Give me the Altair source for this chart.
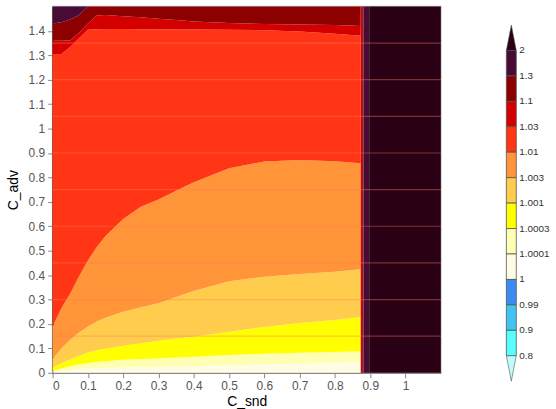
import altair as alt
import pandas as pd

# C_snd positions at which the level boundaries are read
xs = [0, 0.025, 0.05, 0.075, 0.1, 0.125, 0.15, 0.2, 0.25, 0.3, 0.35, 0.4, 0.5, 0.6, 0.7, 0.8, 0.873]

# upper C_adv edge of each filled level (bottom to top)
top_1_0001 = [0.003, 0.008, 0.012, 0.016, 0.018, 0.019, 0.020, 0.022, 0.023, 0.024, 0.026, 0.027, 0.031, 0.034, 0.037, 0.040, 0.042]
top_1_0003 = [0.008, 0.018, 0.027, 0.035, 0.040, 0.044, 0.047, 0.053, 0.057, 0.059, 0.063, 0.066, 0.073, 0.078, 0.082, 0.085, 0.088]
top_1_001 = [0.022, 0.040, 0.055, 0.070, 0.083, 0.092, 0.099, 0.111, 0.121, 0.131, 0.140, 0.148, 0.168, 0.188, 0.204, 0.216, 0.228]
top_1_003 = [0.058, 0.100, 0.135, 0.165, 0.190, 0.210, 0.225, 0.250, 0.268, 0.285, 0.310, 0.335, 0.375, 0.393, 0.405, 0.414, 0.424]
top_1_01 = [0.190, 0.265, 0.325, 0.395, 0.460, 0.515, 0.560, 0.630, 0.680, 0.710, 0.745, 0.780, 0.838, 0.865, 0.871, 0.866, 0.858]
top_1_03 = [1.305, 1.305, 1.334, 1.370, 1.405, 1.407, 1.408, 1.408, 1.407, 1.407, 1.406, 1.406, 1.405, 1.403, 1.397, 1.388, 1.380]
top_1_1 = [1.360, 1.360, 1.362, 1.392, 1.430, 1.463, 1.465, 1.460, 1.456, 1.450, 1.444, 1.438, 1.432, 1.428, 1.426, 1.424, 1.420]
top_1_3 = [1.430, 1.435, 1.447, 1.465, 1.500, 1.500, 1.500, 1.500, 1.500, 1.500, 1.500, 1.500, 1.500, 1.500, 1.500, 1.500, 1.500]
top_2 = [1.5] * len(xs)
floor = [0.0] * len(xs)

# level names and fills, from the lowest to the highest
level_names = ["<0.8", "0.8-0.9", "0.9-0.99", "0.99-1", "1-1.0001", "1.0001-1.0003",
               "1.0003-1.001", "1.001-1.003", "1.003-1.01", "1.01-1.03",
               "1.03-1.1", "1.1-1.3", "1.3-2", ">2"]
level_colors = ["#c0fafa", "#55ffff", "#40c4f2", "#3a8cf2", "#fffce6", "#ffffb3",
                "#ffff00", "#ffcc4d", "#ff9538", "#ff3516",
                "#d40000", "#8c0000", "#470b36", "#2a0014"]

edges = [floor, top_1_0001, top_1_0003, top_1_001, top_1_003, top_1_01,
         top_1_03, top_1_1, top_1_3, top_2]
band_names = level_names[4:13]

# strip of steep levels where the field jumps above 2
strip_lo = [0.873, 0.877, 0.881, 0.897]
strip_hi = [0.877, 0.881, 0.897, 1.1]
strip_level = ["1.03-1.1", "1.1-1.3", "1.3-2", ">2"]

# horizontal guide lines
guide_levels = [0.15, 0.3, 0.45, 0.6, 0.75, 0.9, 1.05, 1.2, 1.35]

x_ticks = [0, 0.1, 0.2, 0.3, 0.4, 0.5, 0.6, 0.7, 0.8, 0.9, 1.0]
y_ticks = [0, 0.1, 0.2, 0.3, 0.4, 0.5, 0.6, 0.7, 0.8, 0.9, 1.0, 1.1, 1.2, 1.3, 1.4]

# colour bar: 12 boxes between the listed levels, top to bottom
bar_labels = ["2", "1.3", "1.1", "1.03", "1.01", "1.003", "1.001",
              "1.0003", "1.0001", "1", "0.99", "0.9", "0.8"]
bar_levels = ["1.3-2", "1.1-1.3", "1.03-1.1", "1.01-1.03", "1.003-1.01",
              "1.001-1.003", "1.0003-1.001", "1.0001-1.0003", "1-1.0001",
              "0.99-1", "0.9-0.99", "0.8-0.9"]

FONT = "Liberation Sans"

rows = []
for b, name in enumerate(band_names):
    lo, hi = edges[b], edges[b + 1]
    for i, x in enumerate(xs):
        rows.append({"C_snd": x, "lo": lo[i], "hi": hi[i], "level": name})
bands = pd.DataFrame(rows)

color_scale = alt.Scale(domain=level_names, range=level_colors)

x_scale = alt.Scale(domain=[0, 1.1], nice=False, zero=False)
y_scale = alt.Scale(domain=[0, 1.5], nice=False, zero=False)
x_axis = alt.Axis(values=x_ticks, format=".1~f", title="C_snd")
y_axis = alt.Axis(values=y_ticks, format=".1~f", title="C_adv")

areas = alt.Chart(bands).mark_area(interpolate="linear", strokeWidth=0).encode(
    x=alt.X("C_snd:Q", scale=x_scale, axis=x_axis),
    y=alt.Y("lo:Q", stack=None, scale=y_scale, axis=y_axis),
    y2="hi:Q",
    color=alt.Color("level:N", scale=color_scale, legend=None),
)

strip = alt.Chart(pd.DataFrame({"lo": strip_lo, "hi": strip_hi, "level": strip_level})).mark_rect().encode(
    x=alt.X("lo:Q", scale=x_scale, axis=x_axis),
    x2="hi:Q",
    color=alt.Color("level:N", scale=color_scale, legend=None),
)

guides = alt.Chart(pd.DataFrame({"g": guide_levels})).mark_rule(
    color="#ff7a5c", opacity=0.4, strokeWidth=1.2
).encode(y=alt.Y("g:Q", scale=y_scale, axis=y_axis))

main = alt.layer(areas, strip, guides).properties(width=391, height=369)

# colour bar panel
pos_scale = alt.Scale(domain=[12.67, -1.73], nice=False, zero=False)
bx_scale = alt.Scale(domain=[0, 1], nice=False, zero=False)
boxes = pd.DataFrame({
    "k0": list(range(len(bar_levels))),
    "k1": [k + 1 for k in range(len(bar_levels))],
    "level": bar_levels,
})
box_marks = alt.Chart(boxes).mark_rect(stroke="#555555", strokeWidth=0.8).encode(
    x=alt.X("b0:Q", scale=bx_scale, axis=None),
    x2="b1:Q",
    y=alt.Y("k0:Q", scale=pos_scale, axis=None),
    y2="k1:Q",
    color=alt.Color("level:N", scale=color_scale, legend=None),
).transform_calculate(b0="0", b1="1")

ticks_df = pd.DataFrame({"k": list(range(len(bar_labels))), "label": bar_labels})
label_marks = alt.Chart(ticks_df).mark_text(
    align="left", baseline="middle", dx=3, fontSize=10, font=FONT, color="#333333"
).encode(
    x=alt.X("b1:Q", scale=bx_scale, axis=None),
    y=alt.Y("k:Q", scale=pos_scale, axis=None),
    text="label:N",
).transform_calculate(b1="1")

arrow_df = pd.DataFrame({
    "k": [-0.5, len(bar_levels) + 0.5],
    "level": [">2", "<0.8"],
    "dir": ["up", "down"],
})
up_path = "M -0.39 1 L 0.39 1 L 0 -1 Z"
down_path = "M -0.39 -1 L 0.39 -1 L 0 1 Z"
arrow_up = alt.Chart(arrow_df).transform_filter("datum.dir == 'up'").transform_calculate(
    c="0.5").mark_point(shape=up_path, filled=True, size=655, opacity=1,
                         stroke="#555555", strokeWidth=0.6).encode(
    x=alt.X("c:Q", scale=bx_scale, axis=None),
    y=alt.Y("k:Q", scale=pos_scale, axis=None),
    color=alt.Color("level:N", scale=color_scale, legend=None),
)
arrow_down = alt.Chart(arrow_df).transform_filter("datum.dir == 'down'").transform_calculate(
    c="0.5").mark_point(shape=down_path, filled=True, size=655, opacity=1,
                         stroke="#555555", strokeWidth=0.6).encode(
    x=alt.X("c:Q", scale=bx_scale, axis=None),
    y=alt.Y("k:Q", scale=pos_scale, axis=None),
    color=alt.Color("level:N", scale=color_scale, legend=None),
)

colorbar = alt.layer(box_marks, arrow_up, arrow_down, label_marks).properties(
    width=10, height=369, view=alt.ViewBackground(stroke="transparent")
)

chart = alt.hconcat(main, colorbar, spacing=62).properties(
    padding={"left": 5, "top": 4, "right": 5, "bottom": 4}
).configure_view(
    stroke="#bbbbbb", strokeWidth=1.5
).configure_axis(
    labelFont=FONT, titleFont=FONT, labelFontSize=12, labelColor="#555555",
    titleFontSize=14, titleFontWeight="normal", titleColor="#000000",
    tickColor="#888888", tickSize=5, labelPadding=3, grid=False,
    labelOverlap=False, labelBound=False,
).configure_axisY(
    domainColor="#333333", domainWidth=1.5, titlePadding=8,
).configure_axisX(
    domainColor="#888888", domainWidth=1.5, titlePadding=3,
).configure_concat(spacing=62)

chart.save("out.html", embed_options={"renderer": "svg", "actions": False})
